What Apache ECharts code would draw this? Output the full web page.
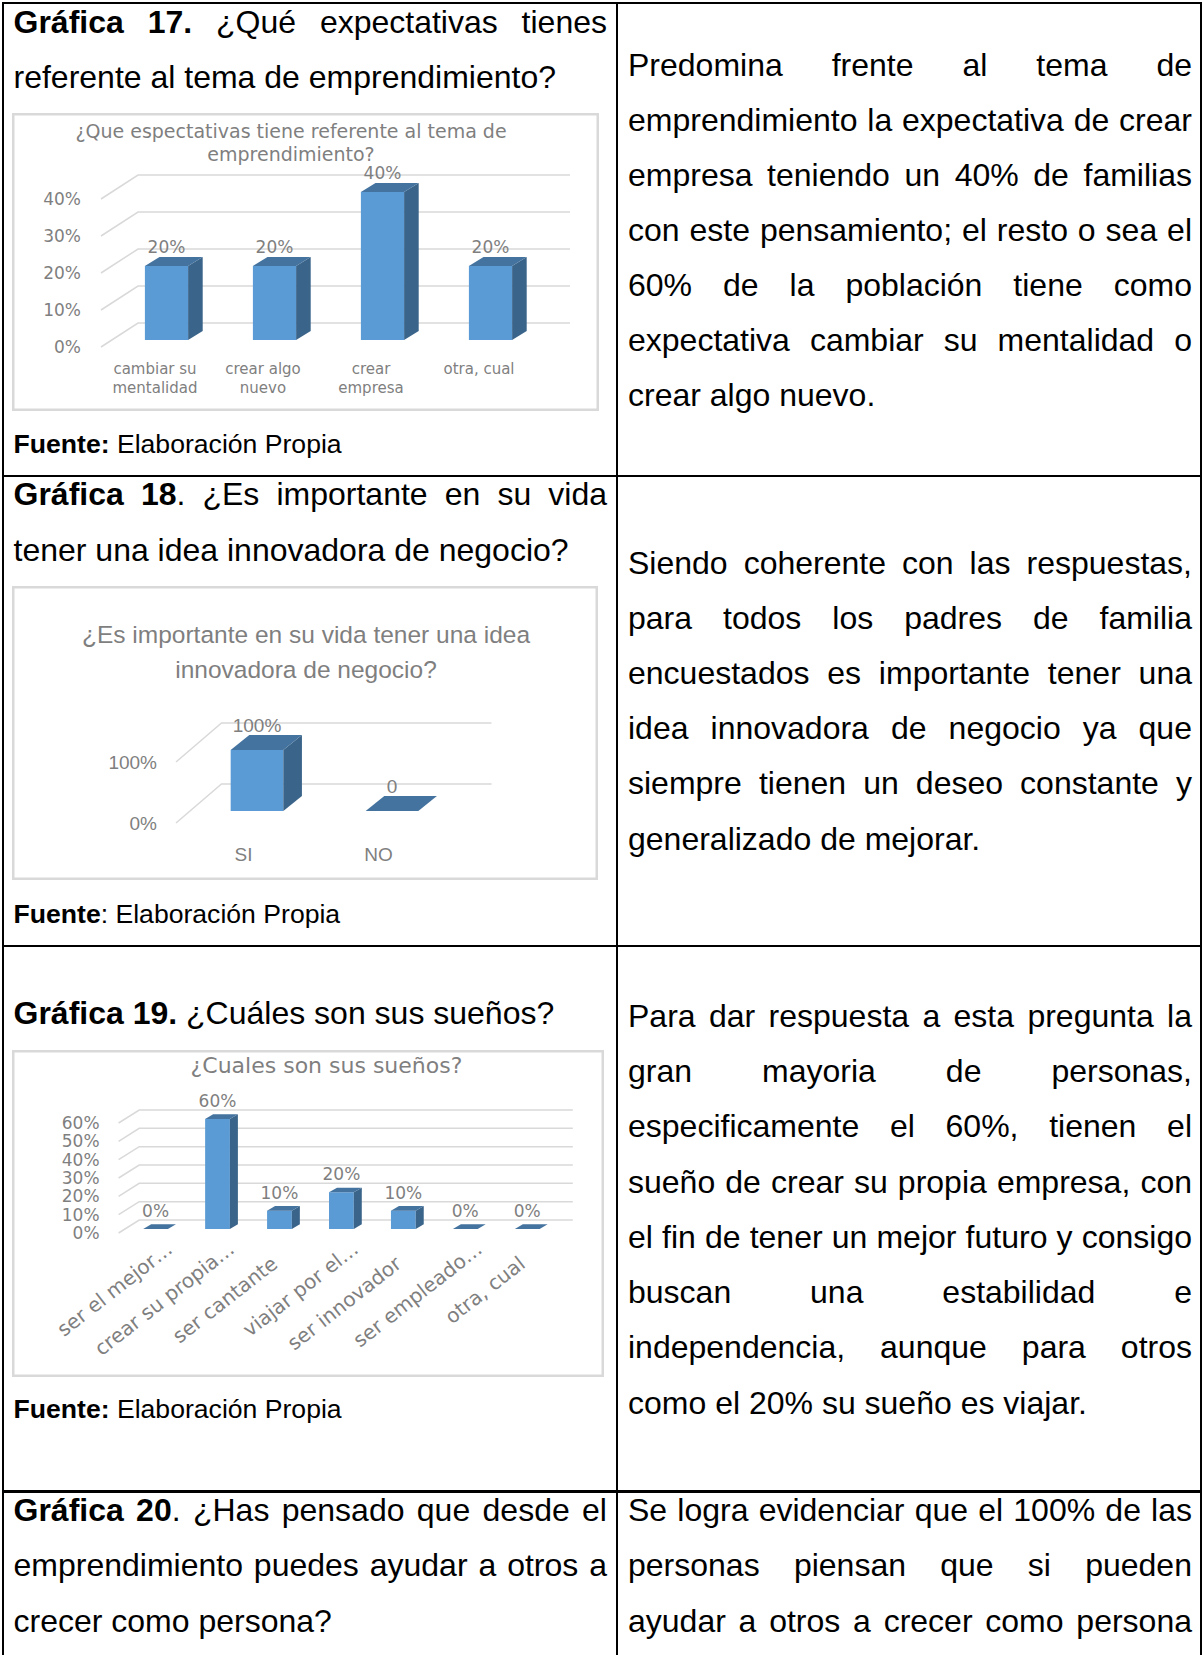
<!DOCTYPE html>
<html lang="es"><head><meta charset="utf-8">
<script src="https://cdn.jsdelivr.net/npm/echarts@6/dist/echarts.min.js"></script>
<style>
html,body{margin:0;padding:0;background:#fff;width:1204px;height:1655px;overflow:hidden}
#page{position:relative;width:1204px;height:1655px;font-family:"Liberation Sans",Arial,sans-serif;color:#000}
.rule{position:absolute;background:#000}
.line{position:absolute;height:40px;line-height:40px;white-space:pre}
.just{display:flex;justify-content:space-between}
.chart{position:absolute;box-shadow:inset 0 0 0 2.5px #d9d9d9}
</style></head><body><div id="page"></div>
<script>
// ---- chart data ----
const categories17 = ['cambiar su\nmentalidad', 'crear algo\nnuevo', 'crear\nempresa', 'otra, cual'];
const values17 = [20, 20, 40, 20];
const labels17 = ['20%', '20%', '40%', '20%'];
const ticks17 = [0, 10, 20, 30, 40];
const title17 = '¿Que espectativas tiene referente al tema de\nemprendimiento?';

const categories18 = ['SI', 'NO'];
const values18 = [100, 0];
const labels18 = ['100%', '0'];
const ticks18 = [0, 100];
const title18 = '¿Es importante en su vida tener una idea\ninnovadora de negocio?';

const categories19 = ['ser el mejor…', 'crear su propia…', 'ser cantante', 'viajar por el…', 'ser innovador', 'ser empleado…', 'otra, cual'];
const values19 = [0, 60, 10, 20, 10, 0, 0];
const labels19 = ['0%', '60%', '10%', '20%', '10%', '0%', '0%'];
const ticks19 = [0, 10, 20, 30, 40, 50, 60];
const title19 = '¿Cuales son sus sueños?';

// ---- page text: [x, width, baseline, size, justified, text]; *word* is bold ----
const L = [13.5, 593.5], R = [628, 564];
const BODY = 32, SRC = 26.6;
const textLines = [
 [L,33.5,BODY,1,'*Gráfica* *17.* ¿Qué expectativas tienes'],
 [L,88.5,BODY,0,'referente al tema de emprendimiento?'],
 [L,453,SRC,0,'*Fuente:* Elaboración Propia'],
 [L,505.5,BODY,1,'*Gráfica* *18*. ¿Es importante en su vida'],
 [L,561.5,BODY,0,'tener una idea innovadora de negocio?'],
 [L,923,SRC,0,'*Fuente*: Elaboración Propia'],
 [L,1024.5,BODY,0,'*Gráfica* *19.* ¿Cuáles son sus sueños?'],
 [L,1418,SRC,0,'*Fuente:* Elaboración Propia'],
 [L,1521.5,BODY,1,'*Gráfica* *20*. ¿Has pensado que desde el'],
 [L,1576.5,BODY,1,'emprendimiento puedes ayudar a otros a'],
 [L,1632.5,BODY,0,'crecer como persona?'],
 [R,76.5,BODY,1,'Predomina frente al tema de'],
 [R,131.5,BODY,1,'emprendimiento la expectativa de crear'],
 [R,186.5,BODY,1,'empresa teniendo un 40% de familias'],
 [R,241.5,BODY,1,'con este pensamiento; el resto o sea el'],
 [R,296.5,BODY,1,'60% de la población tiene como'],
 [R,351.5,BODY,1,'expectativa cambiar su mentalidad o'],
 [R,406.5,BODY,0,'crear algo nuevo.'],
 [R,574.5,BODY,1,'Siendo coherente con las respuestas,'],
 [R,629.5,BODY,1,'para todos los padres de familia'],
 [R,684.5,BODY,1,'encuestados es importante tener una'],
 [R,739.5,BODY,1,'idea innovadora de negocio ya que'],
 [R,794.5,BODY,1,'siempre tienen un deseo constante y'],
 [R,850.5,BODY,0,'generalizado de mejorar.'],
 [R,1027.5,BODY,1,'Para dar respuesta a esta pregunta la'],
 [R,1082.5,BODY,1,'gran mayoria de personas,'],
 [R,1137.5,BODY,1,'especificamente el 60%, tienen el'],
 [R,1193,BODY,1,'sueño de crear su propia empresa, con'],
 [R,1248,BODY,1,'el fin de tener un mejor futuro y consigo'],
 [R,1303,BODY,1,'buscan una estabilidad e'],
 [R,1358,BODY,1,'independencia, aunque para otros'],
 [R,1414,BODY,0,'como el 20% su sueño es viajar.'],
 [R,1521.5,BODY,1,'Se logra evidenciar que el 100% de las'],
 [R,1576.5,BODY,1,'personas piensan que si pueden'],
 [R,1632.5,BODY,1,'ayudar a otros a crecer como persona']
];
const page = document.getElementById('page');
[[2,2,1200,2],[2,475,1200,2],[2,945,1200,2],[2,1490,1200,3],[2,2,2,1653],[616,2,2,1653],[1200,2,2,1653]].forEach(r=>{
  const d=document.createElement('div');d.className='rule';
  d.style.cssText=`left:${r[0]}px;top:${r[1]}px;width:${r[2]}px;height:${r[3]}px`;page.appendChild(d);
});
const toks = s => s.replace(/\*([^*]+)\*/g,'<b>$1</b>');
textLines.forEach(([col,base,fs,just,txt])=>{
  const d=document.createElement('div');
  d.className='line'+(just?' just':'');
  const bl=20+0.3465*fs;
  d.style.cssText=`left:${col[0]}px;width:${col[1]}px;top:${base-bl}px;font-size:${fs}px`;
  if(just){d.innerHTML=txt.split(' ').map(w=>'<span>'+toks(w)+'</span>').join('');}
  else{d.innerHTML=toks(txt);}
  page.appendChild(d);
});

// ---- charts ----
const GRID='#d9d9d9', TXT='#7f7f7f', FRONT='#5b9bd5', TOP='#44739f', SIDE='#3a648a';
function draw(c){
  const el=document.createElement('div');el.className='chart';
  el.style.cssText=`left:${c.box[0]}px;top:${c.box[1]}px;width:${c.box[2]}px;height:${c.box[3]}px`;
  page.appendChild(el);
  const ch=echarts.init(el,null,{renderer:'svg',width:c.box[2],height:c.box[3]});
  const font={fontFamily:c.font,color:TXT};
  const axisLabel={...font,fontSize:c.catSize,interval:0,margin:c.catMargin,lineHeight:c.catLH,rotate:c.rotate||0,hideOverlap:false};
  if(c.fullPad){
    const r={...font,fontSize:c.catSize,lineHeight:c.catLH};
    axisLabel.formatter=v=>v.endsWith('…')?`{e|${v}}`:`{f|${v}}`;
    axisLabel.rich={e:r,f:{...r,padding:[0,c.fullPad,0,0]}};
  }
  ch.setOption({
    animation:false,
    title:{text:c.title,left:c.titleX,top:c.titleY,textAlign:'center',
      textStyle:{...font,fontSize:c.titleSize,fontWeight:'normal',lineHeight:c.titleLH}},
    grid:{left:c.plane[0]-c.box[0],top:c.plane[1]-c.box[1],width:c.plane[2],height:c.plane[3],containLabel:false},
    xAxis:{type:'category',data:c.cats,axisLine:{show:false},axisTick:{show:false},splitLine:{show:false},axisLabel},
    yAxis:{type:'value',min:0,max:c.max,interval:c.step,axisLine:{show:false},axisTick:{show:false},splitLine:{show:false},
      axisLabel:{...font,fontSize:c.tickSize,margin:c.tickMargin,formatter:'{value}%'}},
    series:[
     {type:'custom',silent:true,z:1,clip:false,data:c.ticks.map(v=>[0,v]),
      renderItem(p,api){
        const s=p.coordSys, y=api.coord([0,api.value(1)])[1], x0=s.x+c.wall[0];
        return {type:'polyline',shape:{points:[[x0,y],[x0+c.wall[1],y-c.wall[2]],[s.x+c.wall[0]+c.wall[1]+s.width,y-c.wall[2]]]},
          style:{fill:'none',stroke:GRID,lineWidth:1.5}};
      }},
     {type:'custom',silent:true,z:2,clip:false,data:c.vals.map((v,i)=>[i,v]),
      renderItem(p,api){
        const i=api.value(0), v=api.value(1), w=api.size([1,0])[0]*c.ratio;
        const x=api.coord([i,0])[0]+c.bar[0]-w/2, y0=api.coord([i,0])[1]+c.bar[1], y1=api.coord([i,v])[1]+c.bar[1];
        const dx=c.depth[0], dy=c.depth[1], kids=[];
        if(v>0){
          kids.push({type:'polygon',shape:{points:[[x,y0],[x+w,y0],[x+w,y1],[x,y1]]},style:{fill:FRONT}});
          kids.push({type:'polygon',shape:{points:[[x+w,y1],[x+w+dx,y1-dy],[x+w+dx,y0-dy],[x+w,y0]]},style:{fill:SIDE}});
        }
        kids.push({type:'polygon',shape:{points:[[x,y1],[x+w,y1],[x+w+dx,y1-dy],[x+dx,y1-dy]]},style:{fill:TOP}});
        kids.push({type:'text',style:{x:x+w/2,y:y1-c.lblUp,text:c.labels[p.dataIndex],align:'center',verticalAlign:'middle',
          fill:TXT,fontFamily:c.font,fontSize:c.tickSize}});
        return {type:'group',children:kids};
      }}
    ]
  });
}
const DJ='"DejaVu Sans"', LS='"Liberation Sans"';
draw({box:[12,113,587,298],font:DJ,title:title17,titleX:274,titleY:1,titleSize:19,titleLH:23,
  plane:[101,199,432,148],cats:categories17,vals:values17,labels:labels17,ticks:ticks17,max:40,step:10,
  catSize:15,catMargin:12,catLH:19,tickSize:17,tickMargin:20,wall:[0,37,24],bar:[11.5,-7],depth:[14.6,9],ratio:0.4,lblUp:19});
draw({box:[12,586,586,294],font:LS,title:title18,titleX:289,titleY:26,titleSize:24.5,titleLH:35,
  plane:[176,762,270,61],cats:categories18,vals:values18,labels:labels18,ticks:ticks18,max:100,step:100,
  catSize:19,catMargin:20,catLH:22,tickSize:19,tickMargin:19,wall:[0,45.5,39],bar:[13.5,-12],depth:[18.6,15],ratio:0.39,lblUp:25});
draw({box:[12,1050,592,327],font:DJ,title:title19,titleX:309.5,titleY:-1,titleSize:22,titleLH:22,
  plane:[138.6,1123,433.6,110],cats:categories19,vals:values19,labels:labels19,ticks:ticks19,max:60,step:10,
  catSize:20,catMargin:13,catLH:22,rotate:38,fullPad:24,tickSize:17,tickMargin:39,wall:[-20,20.6,13],bar:[-14,-4],depth:[8,4.7],ratio:0.4,lblUp:18});
</script></body></html>
